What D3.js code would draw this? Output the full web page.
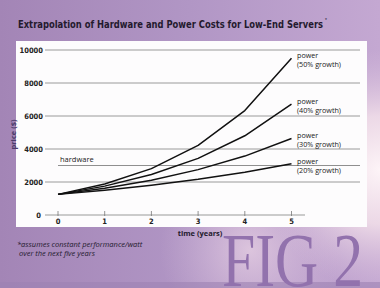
<!DOCTYPE html>
<html>
<head>
<meta charset="utf-8">
<script src="https://cdn.jsdelivr.net/npm/d3@7"></script>
<style>
  body { margin: 0; }
  svg { display: block; }
</style>
</head>
<body>
<div id="chart"></div>
<script>
// values
const years = [0, 1, 2, 3, 4, 5];
const power50 = [1250, 1880, 2810, 4220, 6330, 9500];
const power40 = [1250, 1750, 2450, 3430, 4800, 6720];
const power30 = [1250, 1620, 2110, 2750, 3570, 4640];
const power20 = [1250, 1500, 1800, 2160, 2590, 3110];
const hardware = 3000;
const yTicks = [0, 2000, 4000, 6000, 8000, 10000];
const seriesNames = ["power|(50% growth)", "power|(40% growth)", "power|(30% growth)", "power|(20% growth)"];

const W = 380, H = 288;
const svg = d3.select("#chart").append("svg")
    .attr("width", W).attr("height", H);

// background
const defs = svg.append("defs");
const bg = defs.append("linearGradient").attr("id", "bg")
    .attr("x1", 0).attr("y1", 0).attr("x2", 1).attr("y2", 0);
bg.append("stop").attr("offset", 0).attr("stop-color", "#a385b6");
bg.append("stop").attr("offset", 0.5).attr("stop-color", "#b196c5");
bg.append("stop").attr("offset", 1).attr("stop-color", "#c4a8d2");
const glow = defs.append("radialGradient").attr("id", "glow")
    .attr("gradientUnits", "userSpaceOnUse")
    .attr("cx", 380).attr("cy", 170).attr("r", 120);
glow.append("stop").attr("offset", 0).attr("stop-color", "#fdf4f7").attr("stop-opacity", 1);
glow.append("stop").attr("offset", 0.45).attr("stop-color", "#f3e1ea").attr("stop-opacity", 0.85);
glow.append("stop").attr("offset", 1).attr("stop-color", "#d9c0dc").attr("stop-opacity", 0);
const glow2 = defs.append("radialGradient").attr("id", "glow2")
    .attr("gradientUnits", "userSpaceOnUse")
    .attr("cx", 250).attr("cy", 250).attr("r", 90);
glow2.append("stop").attr("offset", 0).attr("stop-color", "#ecd6e6").attr("stop-opacity", 0.7);
glow2.append("stop").attr("offset", 1).attr("stop-color", "#d9c0dc").attr("stop-opacity", 0);
svg.append("rect").attr("width", W).attr("height", H).attr("fill", "url(#bg)");
svg.append("rect").attr("width", W).attr("height", H).attr("fill", "url(#glow2)");
svg.append("rect").attr("width", W).attr("height", H).attr("fill", "url(#glow)");
svg.append("rect").attr("y", 282).attr("width", W).attr("height", 6)
    .attr("fill", "#9d82b3").attr("opacity", 0.6);

// title
svg.append("text")
    .attr("x", 18).attr("y", 28)
    .attr("font-family", "'Liberation Sans Narrow', 'DejaVu Sans Condensed', sans-serif")
    .attr("font-weight", "bold")
    .attr("font-size", 10.5)
    .attr("fill", "#241a2e")
    .attr("textLength", 305).attr("lengthAdjust", "spacingAndGlyphs")
    .text("Extrapolation of Hardware and Power Costs for Low-End Servers");
svg.append("text")
    .attr("x", 325).attr("y", 22)
    .attr("font-family", "sans-serif").attr("font-size", 5)
    .attr("fill", "#241a2e").text("*");

// white panel
svg.append("rect")
    .attr("x", 16).attr("y", 41).attr("width", 351).attr("height", 186)
    .attr("fill", "#fdfcfd");

const x = d3.scaleLinear().domain([0, 5]).range([58, 291.5]);
const y = d3.scaleLinear().domain([0, 10000]).range([215, 50]);

// gridlines
svg.append("g").selectAll("line")
    .data(yTicks.filter(d => d > 0))
    .join("line")
    .attr("x1", 45).attr("x2", 360)
    .attr("y1", d => y(d)).attr("y2", d => y(d))
    .attr("stroke", "#9a9a9a").attr("stroke-width", 1);

// hardware line
svg.append("line")
    .attr("x1", x(0)).attr("x2", 360)
    .attr("y1", y(hardware)).attr("y2", y(hardware))
    .attr("stroke", "#8f8f8f").attr("stroke-width", 1);
svg.append("text")
    .attr("x", x(0) + 2).attr("y", y(hardware) - 4)
    .attr("font-family", "'Open Sans', sans-serif").attr("font-size", 7.5)
    .attr("fill", "#222").text("hardware");

// y tick labels
svg.append("g").selectAll("text")
    .data(yTicks)
    .join("text")
    .attr("x", d => d === 0 ? 41 : 43)
    .attr("y", d => y(d) + 2.5)
    .attr("text-anchor", "end")
    .attr("font-family", "'Liberation Sans Narrow', 'DejaVu Sans Condensed', sans-serif")
    .attr("font-weight", "bold")
    .attr("font-size", 7.5)
    .attr("fill", "#222")
    .text(d => d);

// x axis
const xAxis = svg.append("g");
xAxis.append("line")
    .attr("x1", 45).attr("x2", 305)
    .attr("y1", y(0)).attr("y2", y(0))
    .attr("stroke", "#9a9a9a").attr("stroke-width", 1.2);
xAxis.selectAll(".tk")
    .data(years)
    .join("line").attr("class", "tk")
    .attr("x1", d => x(d)).attr("x2", d => x(d))
    .attr("y1", y(0) - 4).attr("y2", y(0) + 1)
    .attr("stroke", "#777").attr("stroke-width", 0.8);
xAxis.selectAll(".tl")
    .data(years)
    .join("text").attr("class", "tl")
    .attr("x", d => x(d)).attr("y", y(0) + 8.5)
    .attr("text-anchor", "middle")
    .attr("font-family", "'Liberation Sans Narrow', 'DejaVu Sans Condensed', sans-serif")
    .attr("font-weight", "bold")
    .attr("font-size", 7.5)
    .attr("fill", "#222")
    .text(d => d);

svg.append("text")
    .attr("x", 200).attr("y", 236)
    .attr("text-anchor", "middle")
    .attr("font-family", "'Open Sans', sans-serif").attr("font-weight", "bold")
    .attr("font-size", 7.5).attr("fill", "#241a2e")
    .text("time (years)");

svg.append("text")
    .attr("transform", `translate(16,${(y(4000) + y(6000)) / 2 + 2}) rotate(-90)`)
    .attr("text-anchor", "middle")
    .attr("font-family", "'Open Sans', sans-serif").attr("font-weight", "bold")
    .attr("font-size", 7.5).attr("fill", "#4b3a6a")
    .text("price ($)");

// power lines
const series = [power50, power40, power30, power20];
const line = d3.line().x((d, i) => x(years[i])).y(d => y(d));
svg.append("g").selectAll("path")
    .data(series)
    .join("path")
    .attr("d", line)
    .attr("fill", "none")
    .attr("stroke", "#111")
    .attr("stroke-width", 1.5)
    .attr("stroke-linejoin", "round");

const lbl = svg.append("g").selectAll("text")
    .data(series)
    .join("text")
    .attr("x", 297)
    .attr("y", d => y(d[d.length - 1]))
    .attr("font-family", "'Open Sans', sans-serif")
    .attr("font-size", 7.2)
    .attr("fill", "#222");
lbl.selectAll("tspan")
    .data((d, i) => seriesNames[i].split("|"))
    .join("tspan")
    .attr("x", 297)
    .attr("dy", (d, j) => j === 0 ? 0 : 9)
    .text(d => d);

// footnote
const note = svg.append("text")
    .attr("font-family", "'Open Sans', sans-serif").attr("font-style", "italic")
    .attr("font-size", 7.5).attr("fill", "#241a2e");
note.append("tspan").attr("x", 17).attr("y", 247).text("*assumes constant performance/watt");
note.append("tspan").attr("x", 19).attr("y", 256).text("over the next five years");

// big FIG 2
svg.append("text")
    .attr("x", 222).attr("y", 286)
    .attr("font-family", "'Liberation Serif', serif")
    .attr("font-size", 76)
    .attr("fill", "#9272ad")
    .attr("textLength", 141).attr("lengthAdjust", "spacingAndGlyphs")
    .text("FIG 2");
</script>
</body>
</html>
